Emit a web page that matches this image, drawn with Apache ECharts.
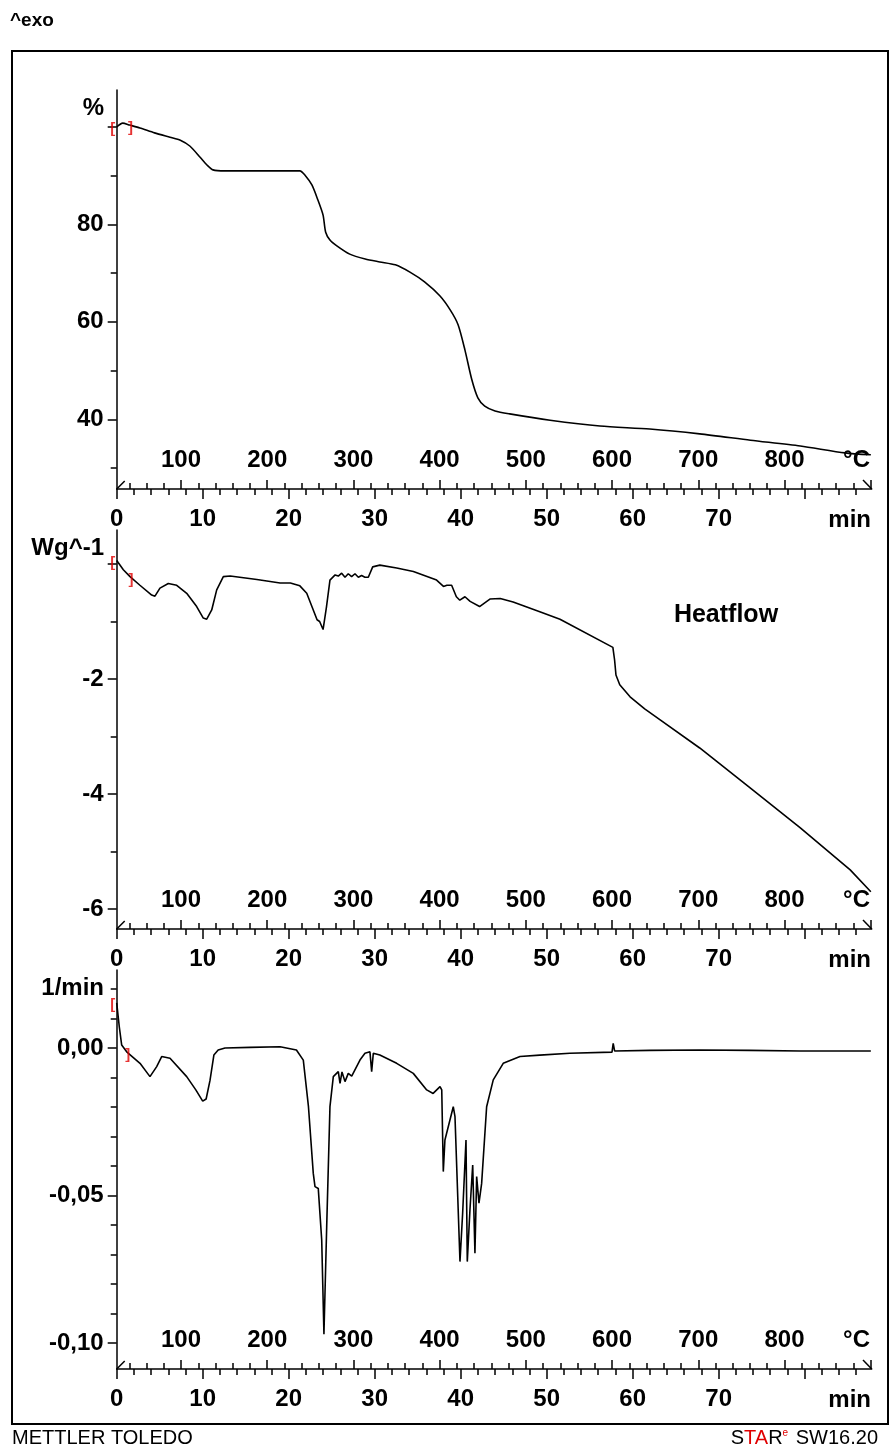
<!DOCTYPE html>
<html>
<head>
<meta charset="utf-8">
<script src="https://cdn.jsdelivr.net/npm/echarts@6/dist/echarts.min.js"></script>
<style>
  html, body { margin: 0; padding: 0; background: #fff; }
  #chart { width: 890px; height: 1452px; }
</style>
</head>
<body>
<div id="chart"></div>
<script>
// ---- measured curves: [time (min), value] ----
const massPercent = [
  [0, 100.0], [0.7, 100.8], [1.5, 100.4], [2.7, 99.8], [4.4, 98.8], [6.2, 97.9],
  [7.4, 97.3], [8.5, 96.1], [9.7, 93.8], [10.5, 92.2], [11.2, 91.2], [12.6, 91.0],
  [16.7, 91.0], [21.3, 91.0], [21.9, 90.1], [22.7, 88.1], [23.4, 85.0], [24.0, 81.9],
  [24.3, 78.4], [24.8, 76.8], [25.6, 75.6], [27.1, 73.9], [28.9, 72.9], [30.6, 72.3],
  [32.4, 71.7], [34.1, 70.2], [35.8, 68.2], [37.6, 65.3], [38.8, 62.4], [39.7, 59.4],
  [40.5, 54.2], [41.3, 48.1], [42.0, 44.4], [42.8, 42.7], [44.0, 41.7], [45.7, 41.1],
  [50.4, 39.8], [56.2, 38.6], [62.0, 38.0], [67.8, 37.0], [73.7, 35.7], [79.5, 34.5],
  [84.7, 33.1], [87.7, 32.7]
];

const heatFlow = [
  [0.0, 0.06], [0.19, 0.02], [0.77, -0.10], [1.55, -0.22], [2.7, -0.37], [4.07, -0.54],
  [4.45, -0.56], [5.03, -0.42], [6.0, -0.34], [6.98, -0.37], [8.14, -0.51], [9.3, -0.74],
  [10.07, -0.94], [10.47, -0.96], [11.05, -0.80], [11.63, -0.45], [12.4, -0.22], [13.2, -0.21],
  [16.3, -0.27], [19.0, -0.33], [20.2, -0.33], [21.3, -0.38], [22.1, -0.51], [22.7, -0.74],
  [23.3, -0.97], [23.6, -1.00], [24.0, -1.14], [24.4, -0.74], [24.8, -0.28], [25.4, -0.19],
  [25.77, -0.21], [26.16, -0.16], [26.55, -0.23], [26.93, -0.17], [27.32, -0.22], [27.71, -0.17],
  [28.1, -0.23], [28.48, -0.20], [28.87, -0.23], [29.26, -0.23], [29.45, -0.22], [29.77, -0.05],
  [30.6, -0.02], [32.56, -0.07], [34.5, -0.13], [37.2, -0.28], [38.0, -0.39], [38.4, -0.37],
  [38.95, -0.37], [39.5, -0.57], [39.9, -0.63], [40.5, -0.57], [41.1, -0.65], [42.2, -0.74],
  [43.4, -0.61], [44.6, -0.60], [46.1, -0.66], [49.2, -0.83], [51.55, -0.96], [57.7, -1.45],
  [57.9, -1.67], [58.06, -1.93], [58.5, -2.10], [59.7, -2.31], [61.4, -2.52], [63.2, -2.71],
  [67.8, -3.20], [73.7, -3.90], [79.5, -4.59], [85.3, -5.32], [87.7, -5.70]
];

const massRate = [
  [0.0, 0.0153], [0.19, 0.0152], [0.3, 0.0072], [0.58, 0.0010], [1.16, -0.0013], [2.71, -0.0052],
  [3.87, -0.0097], [4.65, -0.0063], [5.23, -0.0029], [6.2, -0.0035], [8.14, -0.0097], [9.2, -0.0142],
  [10.0, -0.0180], [10.4, -0.0173], [10.85, -0.0110], [11.3, -0.0024], [11.8, -0.0007], [12.6, 0.0],
  [15.5, 0.0002], [19.0, 0.0004], [20.9, -0.0007], [21.7, -0.0041], [22.3, -0.0199], [22.86, -0.0425],
  [23.06, -0.0470], [23.44, -0.0476], [23.84, -0.0651], [24.1, -0.0970], [24.42, -0.0606], [24.8, -0.0199],
  [25.19, -0.0097], [25.77, -0.0080], [25.97, -0.0120], [26.2, -0.0081], [26.55, -0.0114], [26.93, -0.0086],
  [27.33, -0.0095], [27.9, -0.0063], [28.29, -0.0041], [28.87, -0.0018], [29.45, -0.0013], [29.65, -0.0080],
  [29.84, -0.0018], [30.6, -0.0024], [32.56, -0.0052], [34.49, -0.0086], [36.05, -0.0142], [36.8, -0.0154],
  [37.6, -0.0131], [37.8, -0.0142], [37.98, -0.0419], [38.17, -0.0312], [39.14, -0.0199], [39.34, -0.0233],
  [39.92, -0.0724], [40.23, -0.0560], [40.62, -0.0312], [40.77, -0.0724], [41.08, -0.0549], [41.4, -0.0397],
  [41.66, -0.0696], [41.86, -0.0436], [42.13, -0.0526], [42.44, -0.0459], [43.02, -0.0199], [43.79, -0.0108],
  [44.95, -0.0052], [46.9, -0.0029], [49.2, -0.0024], [52.7, -0.0018], [57.6, -0.0014], [57.74, 0.0016],
  [57.9, -0.0010], [62.0, -0.0008], [67.8, -0.0007], [73.6, -0.0008], [79.5, -0.0010], [87.7, -0.0010]
];

// indices of the evaluation-range brackets on each curve
const massBrackets = [0, 2];
const heatBrackets = [0, 3];
const rateBrackets = [0, 4];

// ---- axes ----
const TIME_MIN = 0, TIME_MAX = 87.8;
const TEMP_MIN = 25.4, TEMP_MAX = 901.2;

const timeMajorTicks = [0, 10, 20, 30, 40, 50, 60, 70, 80];
const timeLabelValues = [0, 10, 20, 30, 40, 50, 60, 70];
const tempMajorTicks = [100, 200, 300, 400, 500, 600, 700, 800, 900];
const tempLabelValues = [100, 200, 300, 400, 500, 600, 700, 800];

const timeMinorTicks = [];
for (let v = 2; v < 87; v += 2) if (v % 10 !== 0) timeMinorTicks.push(v);
const tempMinorTicks = [];
for (let v = 40; v < 900; v += 20) if (v % 100 !== 0) tempMinorTicks.push(v);

const panels = [
  { unit: '%', data: massPercent, brackets: massBrackets, min: 25.68, max: 107.6,
    major: [40, 60, 80, 100], labels: [40, 60, 80], minor: [30, 50, 70, 90],
    fmt: v => String(v) },
  { unit: 'Wg^-1', data: heatFlow, brackets: heatBrackets, min: -6.348, max: 0.591,
    major: [-6, -4, -2, 0], labels: [-6, -4, -2], minor: [-5, -3, -1],
    fmt: v => String(v) },
  { unit: '1/min', data: massRate, brackets: rateBrackets, min: -0.10881, max: 0.02644,
    major: [-0.10, -0.05, 0], labels: [-0.10, -0.05, 0],
    minor: [-0.09, -0.08, -0.07, -0.06, -0.04, -0.03, -0.02, -0.01, 0.01, 0.02],
    fmt: v => v.toFixed(2).replace('.', ',') }
];

// ---- layout ----
const GRID_LEFT = 116.7, GRID_RIGHT = 18.3, GRID_H = 399;
const gridTops = [90, 530, 970];
const FONT = '"Liberation Sans", Arial, sans-serif';
const NARROW = '"Liberation Sans Narrow", "Liberation Sans", Arial, sans-serif';
const labelStyle = { color: '#000', fontFamily: FONT, fontWeight: 'bold', fontSize: 24 };
const AXIS_W = 1.5;

const grid = [], xAxis = [], yAxis = [], series = [], graphic = [];

panels.forEach((p, g) => {
  grid.push({ left: GRID_LEFT, right: GRID_RIGHT, top: gridTops[g], height: GRID_H });

  // time axis (ticks below, labels below)
  xAxis.push({
    gridIndex: g, type: 'value', position: 'bottom', min: TIME_MIN, max: TIME_MAX,
    axisLine: { show: true, onZero: false, lineStyle: { color: '#000', width: AXIS_W } },
    axisTick: { show: true, length: 10, lineStyle: { color: '#000', width: AXIS_W }, customValues: timeMajorTicks },
    axisLabel: Object.assign({ margin: 18, customValues: timeLabelValues }, labelStyle),
    splitLine: { show: false }
  });
  xAxis.push({
    gridIndex: g, type: 'value', position: 'bottom', min: TIME_MIN, max: TIME_MAX,
    axisLine: { show: false, onZero: false },
    axisTick: { show: true, length: 6, lineStyle: { color: '#000', width: AXIS_W }, customValues: timeMinorTicks },
    axisLabel: { show: false }, splitLine: { show: false }
  });
  // temperature axis (ticks above, labels above)
  xAxis.push({
    gridIndex: g, type: 'value', position: 'bottom', min: TEMP_MIN, max: TEMP_MAX,
    axisLine: { show: false, onZero: false },
    axisTick: { show: true, inside: true, length: 9, lineStyle: { color: '#000', width: AXIS_W }, customValues: tempMajorTicks },
    axisLabel: Object.assign({ inside: true, margin: 17, customValues: tempLabelValues }, labelStyle),
    splitLine: { show: false }
  });
  xAxis.push({
    gridIndex: g, type: 'value', position: 'bottom', min: TEMP_MIN, max: TEMP_MAX,
    axisLine: { show: false, onZero: false },
    axisTick: { show: true, inside: true, length: 6, lineStyle: { color: '#000', width: AXIS_W }, customValues: tempMinorTicks },
    axisLabel: { show: false }, splitLine: { show: false }
  });

  yAxis.push({
    gridIndex: g, type: 'value', position: 'left', min: p.min, max: p.max,
    axisLine: { show: true, onZero: false, lineStyle: { color: '#000', width: AXIS_W } },
    axisTick: { show: true, length: 9, lineStyle: { color: '#000', width: AXIS_W }, customValues: p.major },
    axisLabel: Object.assign({ margin: 13, customValues: p.labels, formatter: p.fmt }, labelStyle),
    splitLine: { show: false }
  });
  yAxis.push({
    gridIndex: g, type: 'value', position: 'left', offset: 0, min: p.min, max: p.max,
    axisLine: { show: false, onZero: false },
    axisTick: { show: true, length: 6, lineStyle: { color: '#000', width: AXIS_W }, customValues: p.minor },
    axisLabel: { show: false }, splitLine: { show: false }
  });

  series.push({
    type: 'line', xAxisIndex: 4 * g, yAxisIndex: 2 * g, data: p.data,
    showSymbol: false, symbol: 'none', smooth: g === 0 ? 0.25 : false,
    lineStyle: { color: '#000', width: 1.6 }, z: 3
  });

  // red evaluation-range brackets on the curve
  series.push({
    type: 'scatter', xAxisIndex: 4 * g, yAxisIndex: 2 * g, symbolSize: 1,
    itemStyle: { color: 'rgba(0,0,0,0)' }, z: 4,
    data: p.brackets.map((idx, k) => ({
      value: p.data[idx],
      label: {
        show: true, position: 'inside', formatter: k === 0 ? '[' : ']',
        offset: k === 0 ? [-4, 2] : [1, 3],
        color: '#e00000', fontFamily: FONT, fontWeight: 'bold', fontSize: 15
      }
    }))
  });

  const top = gridTops[g], axisY = top + GRID_H;
  // unit of the y axis
  graphic.push({ type: 'text', style: {
    text: p.unit, x: 104, y: top + 18, align: 'right', verticalAlign: 'middle',
    font: 'bold 24px ' + FONT, fill: '#000' } });
  // units of the two x scales
  graphic.push({ type: 'text', style: {
    text: '°C', x: 870, y: axisY - 29, align: 'right', verticalAlign: 'middle',
    font: 'bold 24px ' + FONT, fill: '#000' } });
  graphic.push({ type: 'text', style: {
    text: 'min', x: 871, y: axisY + 31, align: 'right', verticalAlign: 'middle',
    font: 'bold 24px ' + FONT, fill: '#000' } });
  // start/end marks of the temperature scale
  graphic.push({ type: 'polyline', shape: { points: [[GRID_LEFT, axisY], [GRID_LEFT + 8, axisY - 8]] },
    style: { stroke: '#000', lineWidth: 1.5, fill: null } });
  graphic.push({ type: 'polyline', shape: { points: [[863, axisY - 9], [871.7, axisY]] },
    style: { stroke: '#000', lineWidth: 1.5, fill: null } });
});

// frame, header and footer
graphic.push({ type: 'rect', shape: { x: 12, y: 51, width: 876, height: 1373 },
  style: { stroke: '#000', lineWidth: 2, fill: null }, z: 0 });
graphic.push({ type: 'text', style: { text: '^exo', x: 10, y: 21, verticalAlign: 'middle',
  font: 'bold 19px ' + FONT, fill: '#000' } });
graphic.push({ type: 'text', style: { text: 'Heatflow', x: 726, y: 615, align: 'center', verticalAlign: 'middle',
  font: 'bold 25px ' + FONT, fill: '#000' } });
graphic.push({ type: 'text', style: { text: 'METTLER TOLEDO', x: 12, y: 1438, verticalAlign: 'middle',
  font: '20px ' + NARROW, fill: '#000' } });
graphic.push({ type: 'text', style: {
  text: '{k|S}{r|TA}{k|R}{e|e}{k| SW16.20}', x: 878, y: 1438, align: 'right', verticalAlign: 'middle',
  rich: {
    k: { fontFamily: NARROW, fontSize: 20, fill: '#000' },
    r: { fontFamily: NARROW, fontSize: 20, fill: '#e00000' },
    e: { fontFamily: NARROW, fontSize: 10, fill: '#e00000', verticalAlign: 'top', padding: [0, 2, 8, 0] }
  } } });

const chart = echarts.init(document.getElementById('chart'), null, { renderer: 'canvas' });
chart.setOption({
  animation: false,
  backgroundColor: '#fff',
  grid, xAxis, yAxis, series, graphic
});
</script>
</body>
</html>
